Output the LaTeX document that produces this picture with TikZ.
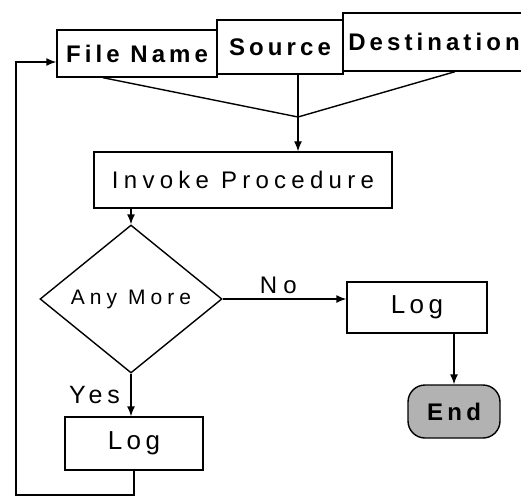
\documentclass[tikz,border=0pt]{standalone}
\usepackage{fontspec}
\setmainfont{Liberation Sans}
\usetikzlibrary{shapes.geometric,arrows.meta,calc}
\begin{document}
\begin{tikzpicture}[x=1pt,y=-1pt,line width=1.4pt,
  box/.style={draw,rectangle,inner sep=0pt},
  hdfont/.style={font=\fontsize{24}{28}\selectfont\bfseries\addfontfeature{LetterSpace=17}},
  invfont/.style={font=\fontsize{24}{28}\selectfont\addfontfeature{LetterSpace=22}},
  amfont/.style={font=\fontsize{21}{25}\selectfont\addfontfeature{LetterSpace=24}},
  lgfont/.style={font=\fontsize{26}{30}\selectfont\addfontfeature{LetterSpace=17}},
  lblfont/.style={font=\fontsize{25}{29}\selectfont\addfontfeature{LetterSpace=20}},
  nofont/.style={font=\fontsize{24}{28}\selectfont\addfontfeature{LetterSpace=25}},
  endfont/.style={font=\fontsize{24}{28}\selectfont\bfseries\addfontfeature{LetterSpace=18}},
  arr/.style={-{Latex[length=10pt,width=8pt]}}]
\useasboundingbox (0,0) rectangle (521,497);
\clip (0,0) rectangle (521,497);

% top row
\node[box,hdfont,minimum width=160pt,minimum height=47pt] (fn) at (137,53.5) {File Name};
\node[box,hdfont,minimum width=126pt,minimum height=54pt] (src) at (280,47) {Source};
\node[box,minimum width=190pt,minimum height=58pt] (dst) at (438,42) {};
\node[hdfont,inner sep=0pt] (dsttext) at (434,42) {Destination};
\coordinate (j) at (298,117);
\draw ([xshift=-34pt]fn.south) -- (j) -- ([xshift=17pt]dst.south);

% invoke
\node[box,invfont,minimum width=298pt,minimum height=56pt] (inv) at (243,180) {Invoke Procedure};
\draw[arr] (j |- src.south) -- (j |- inv.north);

% decision
\node[draw,diamond,inner sep=0pt,minimum width=182pt,minimum height=148pt,amfont] (dec) at (131,299) {Any More};
\draw[arr] (inv.south -| dec.north) -- (dec.north);

% right branch
\node[box,lgfont,minimum width=140pt,minimum height=51pt] (logr) at (417,307.5) {Log};
\draw[arr] (dec.east) -- node[nofont,above=1pt,pos=0.45] (no) {No} (dec.east -| logr.west);
\node[draw,rounded corners=17pt,fill=gray!60,minimum width=92pt,minimum height=53pt,endfont] (end) at (454,411.5) {End};
\draw[arr] (logr.south -| end.north) -- (end.north);

% left branch
\node[box,lgfont,minimum width=138pt,minimum height=53pt] (logl) at (134,443.5) {Log};
\draw[arr] (dec.south) -- node[lblfont,left=7pt,pos=0.5] (yes) {Yes} (dec.south |- logl.north);

% feedback loop
\coordinate (lp) at (16,495);
\draw[arr] (logl.south) |- (lp) |- ([yshift=-8.5pt]fn.west);
\end{tikzpicture}
\end{document}
